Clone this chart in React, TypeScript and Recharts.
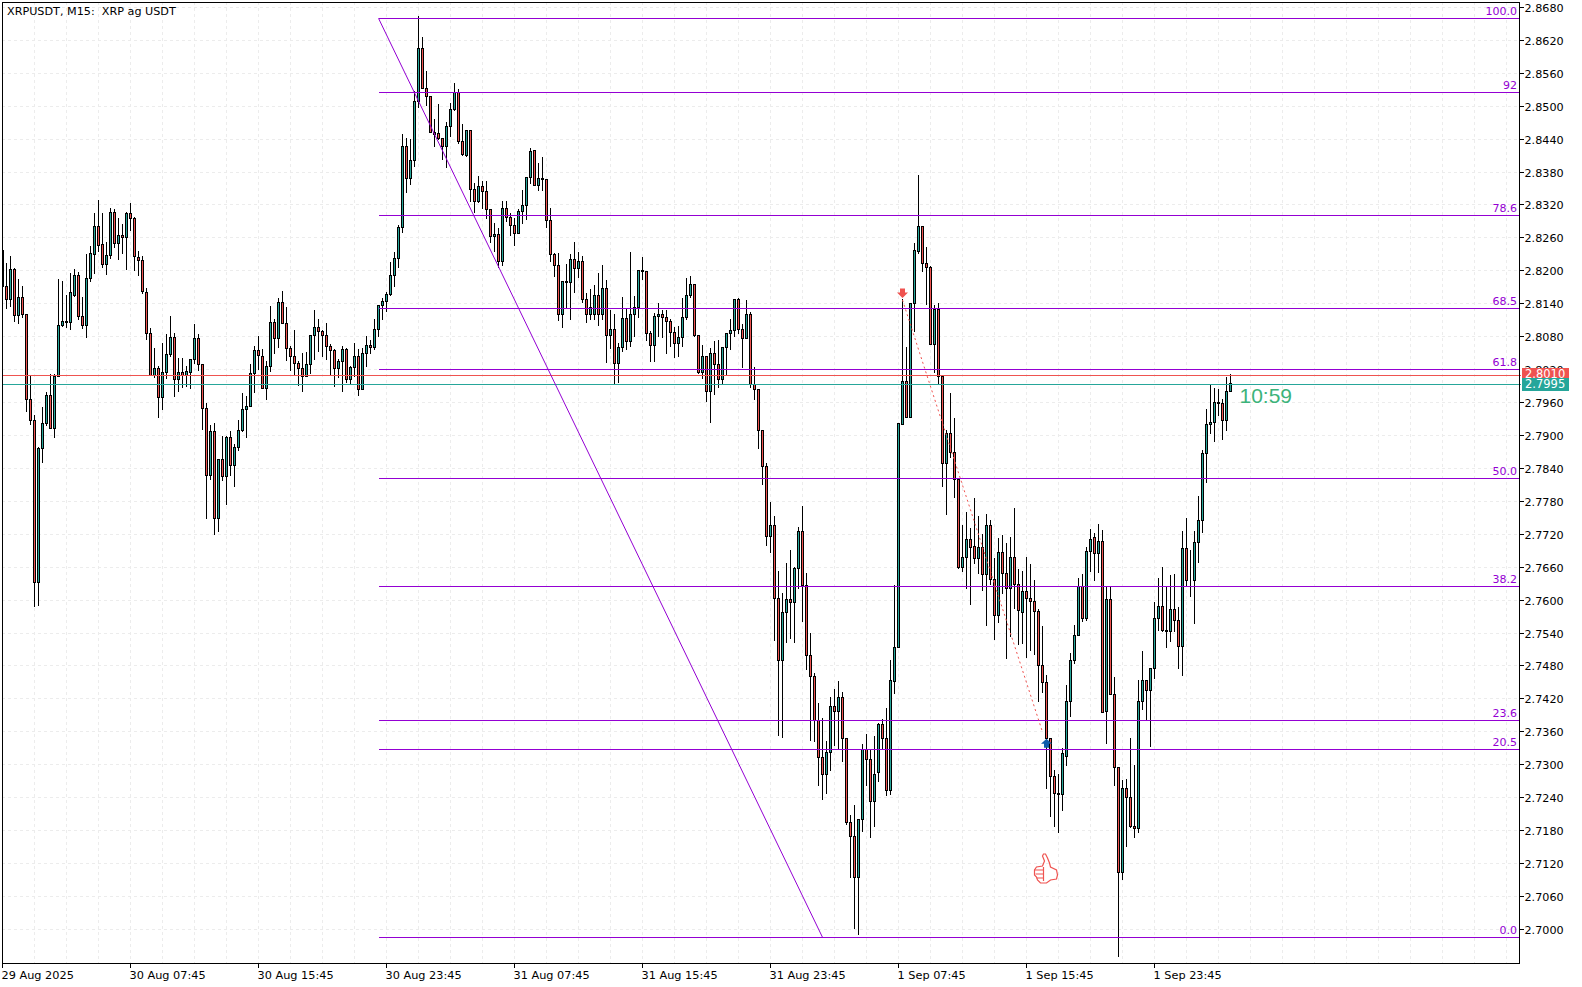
import {
  Bar,
  CartesianGrid,
  ComposedChart,
  Line,
  ReferenceDot,
  ReferenceLine,
  XAxis,
  YAxis,
} from "recharts";

// XRPUSDT M15 candles, prices in 1/10000
const opens = [
  28172, 28173, 28149, 28204, 28119, 28153, 28122, 27967, 27929, 27633,
  27878, 27923, 27974, 27914, 28009, 28101, 28107, 28107, 28156, 28193,
  28118, 28102, 28187, 28231, 28282, 28249, 28213, 28229, 28308, 28251,
  28266, 28262, 28306, 28297, 28226, 28220, 28162, 28087, 28011, 28023,
  27971, 28016, 28049, 28080, 28003, 28016, 28011, 28016, 28040, 28078,
  28031, 27951, 27828, 27909, 27750, 27858, 27826, 27898, 27846, 27879,
  27910, 27949, 27954, 28014, 28056, 28045, 27986, 28027, 28107, 28077,
  28144, 28105, 28060, 28045, 28033, 28023, 28008, 28031, 28083, 28098,
  28091, 28084, 28063, 28056, 28023, 28036, 28058, 28003, 28025, 28045,
  27985, 28051, 28065, 28062, 28095, 28138, 28145, 28158, 28193, 28224,
  28280, 28428, 28370, 28402, 28510, 28607, 28534, 28519, 28453, 28451,
  28442, 28428, 28464, 28495, 28526, 28437, 28411, 28457, 28350, 28328,
  28355, 28346, 28313, 28264, 28268, 28218, 28315, 28299, 28284, 28269,
  28310, 28320, 28371, 28421, 28357, 28370, 28368, 28293, 28231, 28211,
  28122, 28182, 28180, 28222, 28205, 28218, 28149, 28122, 28121, 28156,
  28121, 28169, 28083, 28094, 28033, 28062, 28115, 28073, 28122, 28135,
  28202, 28200, 28087, 28065, 28118, 28122, 28116, 28109, 28089, 28069,
  28080, 28116, 28156, 28176, 28084, 28016, 28045, 27981, 28051, 28031,
  28003, 28062, 28087, 28093, 28149, 28094, 28078, 28122, 27994, 27985,
  27910, 27845, 27717, 27737, 27604, 27491, 27579, 27602, 27597, 27659,
  27726, 27628, 27500, 27462, 27382, 27315, 27284, 27324, 27407, 27398,
  27424, 27349, 27196, 27171, 27096, 27202, 27329, 27311, 27234, 27287,
  27375, 27349, 27254, 27453, 27515, 27921, 28000, 27934, 28142, 28237,
  28282, 28215, 28207, 28067, 28131, 28009, 27850, 27905, 27870, 27821,
  27661, 27679, 27712, 27698, 27677, 27697, 27648, 27737, 27639, 27573,
  27688, 27650, 27623, 27679, 27630, 27579, 27617, 27604, 27599, 27581,
  27482, 27451, 27349, 27280, 27249, 27247, 27316, 27417, 27491, 27537,
  27626, 27568, 27690, 27715, 27686, 27708, 27398, 27602, 27429, 27296,
  27105, 27258, 27242, 27189, 27185, 27417, 27455, 27437, 27477, 27568,
  27590, 27546, 27544, 27584, 27564, 27517, 27695, 27637, 27637, 27706,
  27746, 27869, 27921, 27925, 27961, 27960, 27929, 27982,
];
const highs = [
  28239, 28215, 28228, 28206, 28186, 28173, 28122, 28009, 27938, 27880,
  27952, 27980, 28012, 28013, 28186, 28181, 28156, 28197, 28204, 28198,
  28153, 28230, 28246, 28306, 28330, 28306, 28252, 28314, 28312, 28296,
  28286, 28308, 28323, 28298, 28237, 28228, 28169, 28096, 28060, 28026,
  28068, 28085, 28118, 28087, 28042, 28042, 28027, 28040, 28104, 28085,
  28031, 27960, 27920, 27922, 27858, 27900, 27900, 27909, 27884, 27929,
  27977, 27972, 28031, 28064, 28082, 28057, 28036, 28137, 28113, 28150,
  28164, 28135, 28064, 28093, 28035, 28051, 28053, 28084, 28129, 28113,
  28092, 28105, 28067, 28058, 28039, 28064, 28059, 28027, 28068, 28058,
  28059, 28082, 28075, 28112, 28138, 28150, 28161, 28217, 28235, 28284,
  28449, 28443, 28441, 28527, 28665, 28626, 28565, 28519, 28476, 28505,
  28443, 28471, 28506, 28543, 28532, 28468, 28457, 28457, 28361, 28373,
  28363, 28363, 28313, 28288, 28278, 28328, 28328, 28306, 28297, 28312,
  28347, 28371, 28424, 28421, 28397, 28408, 28368, 28315, 28233, 28233,
  28182, 28212, 28230, 28253, 28235, 28227, 28159, 28167, 28175, 28197,
  28210, 28183, 28128, 28122, 28068, 28153, 28133, 28234, 28155, 28202,
  28226, 28200, 28090, 28124, 28142, 28129, 28128, 28112, 28097, 28100,
  28150, 28188, 28190, 28176, 28084, 28065, 28045, 28060, 28073, 28074,
  28062, 28087, 28113, 28149, 28151, 28104, 28147, 28125, 28025, 27985,
  27910, 27850, 27779, 27754, 27654, 27613, 27667, 27692, 27661, 27734,
  27772, 27650, 27540, 27468, 27412, 27386, 27344, 27424, 27438, 27452,
  27433, 27349, 27208, 27227, 27202, 27338, 27356, 27329, 27353, 27376,
  27384, 27404, 27491, 27628, 27923, 28148, 28062, 28142, 28250, 28374,
  28282, 28244, 28209, 28138, 28142, 28010, 27910, 27978, 27932, 27821,
  27737, 27761, 27732, 27786, 27754, 27721, 27757, 27746, 27677, 27714,
  27718, 27705, 27716, 27768, 27657, 27654, 27679, 27666, 27637, 27584,
  27553, 27464, 27349, 27291, 27284, 27331, 27445, 27504, 27555, 27641,
  27648, 27697, 27729, 27723, 27739, 27728, 27626, 27626, 27460, 27296,
  27273, 27274, 27349, 27299, 27454, 27508, 27455, 27477, 27596, 27641,
  27661, 27624, 27646, 27648, 27588, 27726, 27750, 27692, 27726, 27790,
  27874, 27948, 27993, 27986, 27984, 27967, 28006, 28013,
];
const lows = [
  28171, 28132, 28136, 28108, 28105, 28116, 27944, 27921, 27589, 27591,
  27852, 27920, 27914, 27897, 28009, 28099, 28098, 28094, 28154, 28112,
  28096, 28079, 28181, 28196, 28237, 28207, 28194, 28224, 28243, 28222,
  28233, 28203, 28274, 28201, 28192, 28159, 28076, 28011, 28006, 27934,
  27948, 28005, 28045, 27972, 27981, 27989, 27990, 27986, 28032, 28019,
  27912, 27750, 27821, 27720, 27726, 27819, 27776, 27828, 27808, 27873,
  27908, 27897, 27954, 27979, 28022, 27986, 27966, 28017, 28051, 28062,
  28105, 28037, 28019, 28010, 27993, 27981, 28008, 28014, 28040, 28054,
  28045, 28039, 28011, 27990, 28006, 27981, 27997, 27995, 28008, 27974,
  27985, 28026, 28051, 28057, 28081, 28112, 28127, 28156, 28173, 28208,
  28271, 28344, 28358, 28391, 28499, 28534, 28503, 28453, 28427, 28440,
  28404, 28389, 28446, 28494, 28433, 28411, 28409, 28327, 28307, 28325,
  28314, 28296, 28252, 28237, 28207, 28211, 28291, 28266, 28248, 28269,
  28287, 28294, 28361, 28357, 28348, 28348, 28280, 28218, 28190, 28110,
  28098, 28133, 28112, 28161, 28189, 28143, 28107, 28113, 28112, 28102,
  28112, 28034, 28059, 27994, 27997, 28054, 28057, 28063, 28081, 28116,
  28185, 28074, 28036, 28036, 28081, 28079, 28050, 28064, 28043, 28045,
  28063, 28113, 28153, 28081, 28014, 28005, 27963, 27924, 27975, 27988,
  27995, 28011, 28057, 28081, 28087, 28025, 28078, 27988, 27966, 27877,
  27811, 27700, 27687, 27527, 27354, 27350, 27523, 27531, 27523, 27623,
  27562, 27474, 27345, 27343, 27263, 27238, 27248, 27290, 27336, 27329,
  27307, 27192, 27095, 27002, 26991, 27179, 27263, 27168, 27188, 27271,
  27329, 27245, 27247, 27431, 27515, 27921, 27934, 27934, 28090, 28233,
  28200, 28139, 28067, 28015, 27994, 27808, 27757, 27861, 27788, 27658,
  27653, 27622, 27593, 27667, 27650, 27618, 27554, 27629, 27530, 27560,
  27613, 27494, 27534, 27585, 27520, 27522, 27496, 27510, 27502, 27416,
  27432, 27258, 27206, 27188, 27177, 27217, 27299, 27389, 27486, 27536,
  27562, 27564, 27654, 27636, 27652, 27397, 27340, 27429, 27263, 26951,
  27092, 27152, 27187, 27168, 27178, 27401, 27382, 27334, 27459, 27546,
  27544, 27514, 27526, 27544, 27476, 27463, 27628, 27607, 27558, 27670,
  27724, 27816, 27904, 27890, 27938, 27893, 27910, 27982,
];
const closes = [
  28238, 28149, 28204, 28119, 28153, 28121, 27967, 27929, 27633, 27878,
  27923, 27974, 27914, 28009, 28102, 28109, 28109, 28162, 28193, 28118,
  28102, 28187, 28233, 28282, 28247, 28213, 28229, 28308, 28251, 28266,
  28262, 28306, 28297, 28228, 28220, 28164, 28087, 28011, 28023, 27971,
  28016, 28049, 28080, 28003, 28016, 28011, 28018, 28040, 28078, 28031,
  27951, 27828, 27909, 27750, 27858, 27826, 27898, 27846, 27879, 27910,
  27949, 27954, 28014, 28056, 28046, 27986, 28027, 28107, 28077, 28144,
  28105, 28060, 28045, 28032, 28023, 28008, 28031, 28084, 28098, 28090,
  28083, 28063, 28056, 28023, 28036, 28058, 28003, 28025, 28045, 27985,
  28051, 28065, 28062, 28095, 28138, 28146, 28158, 28193, 28224, 28280,
  28428, 28370, 28402, 28510, 28607, 28534, 28519, 28453, 28450, 28442,
  28427, 28464, 28495, 28526, 28437, 28413, 28457, 28350, 28328, 28355,
  28346, 28313, 28264, 28268, 28218, 28315, 28299, 28284, 28269, 28310,
  28320, 28371, 28419, 28357, 28370, 28368, 28293, 28231, 28211, 28122,
  28182, 28180, 28222, 28205, 28218, 28149, 28122, 28135, 28156, 28121,
  28169, 28084, 28094, 28033, 28062, 28115, 28073, 28122, 28135, 28202,
  28200, 28087, 28065, 28118, 28122, 28116, 28109, 28089, 28069, 28080,
  28116, 28156, 28176, 28084, 28016, 28045, 27981, 28051, 28031, 28003,
  28062, 28087, 28093, 28149, 28094, 28078, 28122, 27994, 27985, 27910,
  27845, 27717, 27737, 27604, 27491, 27579, 27602, 27597, 27659, 27726,
  27628, 27500, 27462, 27382, 27315, 27284, 27324, 27407, 27398, 27424,
  27349, 27196, 27171, 27096, 27202, 27329, 27311, 27234, 27284, 27375,
  27349, 27254, 27455, 27515, 27923, 28000, 27934, 28142, 28238, 28282,
  28215, 28207, 28067, 28131, 28008, 27850, 27905, 27870, 27821, 27660,
  27679, 27712, 27697, 27677, 27697, 27648, 27737, 27639, 27573, 27688,
  27650, 27623, 27679, 27630, 27582, 27617, 27604, 27599, 27581, 27482,
  27451, 27349, 27280, 27249, 27247, 27322, 27417, 27491, 27537, 27626,
  27568, 27690, 27712, 27686, 27708, 27397, 27602, 27429, 27296, 27105,
  27258, 27242, 27189, 27185, 27417, 27455, 27437, 27477, 27568, 27590,
  27546, 27544, 27584, 27564, 27517, 27695, 27637, 27636, 27706, 27746,
  27869, 27921, 27925, 27961, 27960, 27929, 27982, 27995,
];

const priceTicks = [
  2.868, 2.862, 2.856, 2.85, 2.844, 2.838, 2.832, 2.826, 2.82, 2.814, 2.808,
  2.802, 2.796, 2.79, 2.784, 2.778, 2.772, 2.766, 2.76, 2.754, 2.748, 2.742,
  2.736, 2.73, 2.724, 2.718, 2.712, 2.706, 2.7,
];
const timeTicks = [0, 32, 64, 96, 128, 160, 192, 224, 256, 288];
const timeLabels = [
  "29 Aug 2025", "30 Aug 07:45", "30 Aug 15:45", "30 Aug 23:45", "31 Aug 07:45",
  "31 Aug 15:45", "31 Aug 23:45", "1 Sep 07:45", "1 Sep 15:45", "1 Sep 23:45",
];
const gridBars = Array.from({ length: 48 }, (_, k) => k * 8);

const fibLabels = ["100.0", "92", "78.6", "68.5", "61.8", "50.0", "38.2", "23.6", "20.5", "0.0"];
const fibPrices = [2.86613, 2.85264, 2.83023, 2.81328, 2.80217, 2.7823, 2.76262, 2.73821, 2.73292, 2.69866];

const BID = 2.801;
const ASK = 2.79945;
const BAR_COUNT = 380;
const LAST_BAR = BAR_COUNT - 1;
const FIB_START = 94;
const FIB_END = 205;
const SELL_BAR = 225;
const BUY_BAR = 261;
const SELL_MARK = 2.81688;
const BUY_MARK = 2.73322;
const SIGNAL_START = 2.81479;
const SIGNAL_END = 2.73607;
// the tick hidden behind the bid tag
const COVERED_TICK = 2.802;

const UP = "#26a69a";
const DOWN = "#ef5350";
const PURPLE = "#9400d3";
const FONT = "'DejaVu Sans', sans-serif";

const table = Array.from({ length: BAR_COUNT }, (_, idx) => {
  const marks = {
    idx,
    sell: idx === SELL_BAR ? SELL_MARK : null,
    buy: idx === BUY_BAR ? BUY_MARK : null,
    signal: idx === SELL_BAR ? SIGNAL_START : idx === BUY_BAR - 1 ? SIGNAL_END : null,
  };
  if (idx >= opens.length) return marks;
  return {
    ...marks,
    open: opens[idx] / 10000,
    high: highs[idx] / 10000,
    low: lows[idx] / 10000,
    close: closes[idx] / 10000,
  };
});

function Candle(props: any) {
  const { x, y, width, height, payload } = props;
  if (payload.high == null) return null;
  const { open, high, low, close } = payload;
  const perPrice = height / (high - low);
  const cx = x + width / 2;
  const top = Math.floor(y + (high - Math.max(open, close)) * perPrice) + 0.5;
  const bottom = Math.floor(y + (high - Math.min(open, close)) * perPrice) + 0.5;
  return (
    <g shapeRendering="crispEdges">
      <line x1={cx} x2={cx} y1={Math.floor(y)} y2={Math.floor(y + height) + 1} stroke="#000" />
      <rect
        x={cx - 1}
        y={top}
        width={2}
        height={bottom - top}
        fill={close >= open ? UP : DOWN}
        stroke="#000"
      />
    </g>
  );
}

const snap = (v: number) => Math.floor(v) + 0.5;

function HLine(props: any) {
  const { x1, x2, y1, stroke } = props;
  return <line x1={x1} x2={x2} y1={snap(y1)} y2={snap(y1)} stroke={stroke} shapeRendering="crispEdges" />;
}

function GridH(props: any) {
  const y = snap(props.y1 - 0.6);
  return <line x1={2} x2={1519} y1={y} y2={y} stroke="#ececec" strokeDasharray="3 3" shapeRendering="crispEdges" />;
}

function GridV(props: any) {
  return (
    <line x1={props.x1} x2={props.x2} y1={2} y2={963} stroke="#ececec" strokeDasharray="3 3" shapeRendering="crispEdges" />
  );
}

function PriceTick(props: any) {
  const { y, payload } = props;
  const row = snap(y - 0.6);
  const covered = payload.value === COVERED_TICK;
  return (
    <g>
      {covered && (
        <clipPath id="above-bid-tag">
          <rect x={1520} y={0} width={62} height={368} />
        </clipPath>
      )}
      {!covered && <line x1={1520} x2={1524} y1={row} y2={row} stroke="#000" shapeRendering="crispEdges" />}
      <text
        x={1524.5}
        y={row + 4}
        fontFamily={FONT}
        fontSize={11.2}
        fill="#000"
        clipPath={covered ? "url(#above-bid-tag)" : undefined}
      >
        {payload.value.toFixed(4)}
      </text>
    </g>
  );
}

function TimeTick(props: any) {
  const { x, payload } = props;
  return (
    <g>
      <line x1={x} x2={x} y1={964} y2={968} stroke="#000" shapeRendering="crispEdges" />
      <text x={x - 1} y={979} fontFamily={FONT} fontSize={11.3} fill="#000">
        {timeLabels[timeTicks.indexOf(payload.value)]}
      </text>
    </g>
  );
}

function priceTag(label: string, fill: string, above: number) {
  return (props: any) => {
    const top = Math.floor(props.cy) - above;
    return (
      <g>
        <rect x={1522} y={top} width={47} height={13} fill={fill} />
        <text x={1525} y={top + 10} fontFamily={FONT} fontSize={11.5} fill="#fff">
          {label}
        </text>
      </g>
    );
  };
}

function fibLabel(label: string) {
  return (props: any) => (
    <text
      x={1517}
      y={Math.floor(props.cy) - 3}
      textAnchor="end"
      fontFamily={FONT}
      fontSize={11}
      fill={PURPLE}
    >
      {label}
    </text>
  );
}

function SellArrow(props: any) {
  const { cx, cy, value, index } = props;
  if (value == null) return <g key={index} />;
  return <path key={index} d={`M${cx - 2.5},${cy} h5 v4 h3 l-5.5,5.5 l-5.5,-5.5 h3 Z`} fill={DOWN} />;
}

function BuyArrow(props: any) {
  const { cx, cy, value, index } = props;
  if (value == null) return <g key={index} />;
  return <path key={index} d={`M${cx - 2.5},${cy} h5 v-4 h3 l-5.5,-5 l-5.5,5 h3 Z`} fill="#0d5cab" />;
}

function ThumbUp(props: any) {
  const { cx, cy } = props;
  return (
    <g transform={`translate(${cx},${cy})`} fill="none" stroke={DOWN} strokeWidth={1.2}>
      <path d="M-4,-3 L-2,-8 L-4,-13 L-3,-15 L-1,-15 L1,-11 L3,-6 L4,-2 L10,1 L11,6 L10,10 L4,11 L0,14 L-6,14 L-9,11 L-10,8 L-12,6 L-12,1 L-10,-2 Z" />
      <path d="M-12,1 L-3,1 M-11,5 L-3,5 M-10,9 L-3,9 M-3,-2 L-3,12" />
    </g>
  );
}

function Countdown(props: any) {
  return (
    <text x={props.cx + 9} y={props.cy + 19} fontFamily="'Liberation Sans', sans-serif" fontSize={21} fill="#3cb37a">
      10:59
    </text>
  );
}

export default function App() {
  return (
    <div style={{ position: "absolute", left: 0, top: 0, width: 1582, height: 987, background: "#fff", overflow: "hidden" }}>
      <ComposedChart
        width={1582}
        height={987}
        data={table}
        barCategoryGap={0}
        margin={{ top: 2, right: 0, bottom: 0, left: 0.5 }}
      >
        <CartesianGrid horizontal={GridH} vertical={GridV} verticalValues={gridBars} horizontalValues={priceTicks} />
        <XAxis
          dataKey="idx"
          ticks={timeTicks}
          interval={0}
          height={24}
          axisLine={false}
          tickLine={false}
          tick={TimeTick}
        />
        <YAxis
          orientation="right"
          width={61.5}
          domain={[2.69398, 2.869096]}
          allowDataOverflow
          ticks={priceTicks}
          interval={0}
          axisLine={false}
          tickLine={false}
          tick={PriceTick}
        />
        <ReferenceLine y={BID} stroke={DOWN} shape={HLine} />
        <ReferenceLine y={ASK} stroke={UP} shape={HLine} />
        {fibPrices.map((p) => (
          <ReferenceLine
            key={p}
            segment={[
              { x: FIB_START, y: p },
              { x: LAST_BAR, y: p },
            ]}
            stroke={PURPLE}
            shape={HLine}
          />
        ))}
        <ReferenceLine
          segment={[
            { x: FIB_START, y: fibPrices[0] },
            { x: FIB_END, y: fibPrices[9] },
          ]}
          stroke={PURPLE}
        />
        <Bar
          dataKey={(d: any) => (d.high == null ? null : [d.low, d.high])}
          shape={Candle}
          isAnimationActive={false}
        />
        <Line
          dataKey="signal"
          connectNulls
          stroke={DOWN}
          strokeWidth={1}
          strokeDasharray="2 3"
          dot={false}
          activeDot={false}
          isAnimationActive={false}
        />
        <Line dataKey="sell" stroke="none" dot={SellArrow} activeDot={false} isAnimationActive={false} />
        <Line dataKey="buy" stroke="none" dot={BuyArrow} activeDot={false} isAnimationActive={false} />
        {fibPrices.map((p, i) => (
          <ReferenceDot key={fibLabels[i]} x={LAST_BAR} y={p} shape={fibLabel(fibLabels[i])} />
        ))}
        <ReferenceDot x={BUY_BAR} y={2.71111} shape={ThumbUp} />
        <ReferenceDot x={opens.length - 1} y={2.7995} shape={Countdown} />
        <ReferenceDot x={LAST_BAR} y={BID} shape={priceTag("2.8010", DOWN, 7)} />
        <ReferenceDot x={LAST_BAR} y={ASK} shape={priceTag("2.7995", UP, 6)} />
      </ComposedChart>
      <div style={{ position: "absolute", left: 0, top: 0, width: 2, height: 964, background: "#fff" }} />
      <div
        style={{
          position: "absolute",
          left: 2,
          top: 2,
          width: 1518,
          height: 962,
          boxSizing: "border-box",
          border: "1px solid #000",
          pointerEvents: "none",
        }}
      />
      <div
        style={{
          position: "absolute",
          left: 7,
          top: 5,
          fontFamily: FONT,
          fontSize: 11.2,
          whiteSpace: "pre",
          color: "#000",
        }}
      >
        {"XRPUSDT, M15:  XRP ag USDT"}
      </div>
    </div>
  );
}
